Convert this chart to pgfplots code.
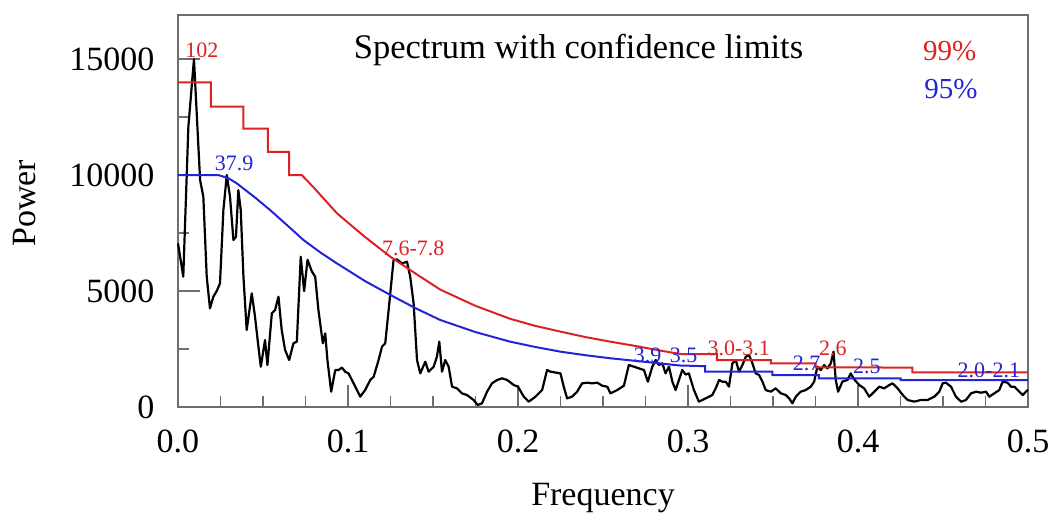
\documentclass[border=0pt]{standalone}
\usepackage{pgfplots}
\pgfplotsset{compat=1.18}
\usepackage{fontspec}
\setmainfont{Liberation Serif}
\definecolor{cred}{RGB}{220,35,35}
\definecolor{cblue}{RGB}{35,35,215}
\definecolor{cframe}{RGB}{110,110,110}
\pgfplotstableread{
f P
0 7055
0.0031 5617
0.0061 12083
0.0094 15000
0.0130 9784
0.0149 9066
0.0169 5617
0.0188 4253
0.0208 4756
0.0228 5000
0.0247 5330
0.0267 8491
0.0287 10000
0.0306 9066
0.0326 7198
0.0341 7340
0.0355 9353
0.0369 8491
0.0385 5617
0.0404 3319
0.0434 4899
0.0453 3893
0.0473 2600
0.0487 1737
0.0512 2888
0.0526 1809
0.0552 4037
0.0571 4181
0.0591 4756
0.0610 3319
0.0630 2457
0.0654 2026
0.0679 2744
0.0699 2816
0.0722 6480
0.0742 5000
0.0762 6350
0.0787 5850
0.0807 5617
0.0826 4181
0.0852 2744
0.0866 3175
0.0879 2026
0.0901 660
0.0925 1593
0.0944 1593
0.0964 1700
0.0983 1522
0.1003 1450
0.1033 1020
0.1072 445
0.1101 733
0.1131 1164
0.1151 1307
0.1180 2026
0.1200 2600
0.1219 2744
0.1239 4181
0.1268 6336
0.1288 6360
0.1317 6193
0.1347 6264
0.1366 5617
0.1386 4469
0.1406 2026
0.1425 1450
0.1455 1953
0.1474 1522
0.1504 1737
0.1523 2170
0.1537 2816
0.1553 1522
0.1572 2026
0.1592 1737
0.1612 877
0.1641 805
0.1670 589
0.1700 517
0.1739 302
0.1763 86
0.1788 158
0.1818 660
0.1847 1020
0.1877 1164
0.1906 1236
0.1936 1164
0.1975 948
0.2000 876
0.2034 445
0.2063 230
0.2103 445
0.2142 733
0.2171 1595
0.2191 1523
0.2250 1450
0.2269 876
0.2289 373
0.2318 445
0.2348 661
0.2377 1020
0.2407 1049
0.2436 1020
0.2466 1049
0.2495 920
0.2525 876
0.2544 589
0.2584 733
0.2623 920
0.2652 1810
0.2682 1738
0.2711 1666
0.2741 1595
0.2764 1092
0.2790 1738
0.2810 2026
0.2829 1810
0.2849 1882
0.2868 1451
0.2888 1738
0.2908 1092
0.2927 733
0.2947 1164
0.2966 1595
0.2986 1400
0.3005 1450
0.3035 733
0.3064 230
0.3104 373
0.3143 517
0.3163 805
0.3183 1164
0.3202 1092
0.3222 1092
0.3241 876
0.3261 1882
0.3281 2026
0.3300 1523
0.3320 1810
0.3340 2170
0.3359 2241
0.3379 1882
0.3398 1451
0.3418 1379
0.3438 1092
0.3457 733
0.3487 661
0.3516 805
0.3546 589
0.3575 517
0.3595 373
0.3614 158
0.3634 445
0.3663 661
0.3693 733
0.3722 876
0.3742 1092
0.3761 1738
0.3781 1595
0.3801 1810
0.3820 1666
0.3840 1882
0.3856 2385
0.3869 1164
0.3883 661
0.3908 1092
0.3938 1164
0.3957 1451
0.3977 1200
0.4007 948
0.4036 805
0.4066 445
0.4096 661
0.4125 876
0.4154 805
0.4184 948
0.4203 1020
0.4233 805
0.4263 517
0.4292 302
0.4331 230
0.4370 302
0.4409 302
0.4449 445
0.4478 661
0.4498 1020
0.4517 1049
0.4547 876
0.4576 445
0.4606 230
0.4635 302
0.4665 589
0.4694 661
0.4723 617
0.4753 661
0.4772 445
0.4802 589
0.4831 733
0.4851 1092
0.4880 1049
0.4900 876
0.4920 876
0.4939 733
0.4969 517
0.4988 661
0.5000 750
}\spectrum
\pgfplotstableread{
f P
0 14000
0.0193 14000
0.0193 12950
0.0385 12950
0.0385 12000
0.0528 12000
0.0528 11000
0.0654 11000
0.0654 10000
0.0728 10000
0.0800 9450
0.0935 8350
0.1100 7330
0.1249 6480
0.1400 5740
0.1543 5060
0.1750 4360
0.1955 3800
0.2100 3500
0.2250 3250
0.2400 3010
0.2544 2815
0.2700 2620
0.2830 2440
0.2956 2285
0.3170 2285
0.3170 2025
0.3487 2025
0.3487 1880
0.3750 1880
0.3750 1710
0.4320 1700
0.4320 1495
0.5000 1495
}\redlim
\pgfplotstableread{
f P
0 10000
0.0238 10000
0.0300 9850
0.0346 9640
0.0450 9050
0.0542 8490
0.0640 7850
0.0738 7200
0.0840 6650
0.0935 6190
0.1100 5430
0.1249 4830
0.1400 4250
0.1543 3750
0.1750 3230
0.1955 2815
0.2100 2590
0.2250 2385
0.2400 2230
0.2544 2100
0.2700 1983
0.2950 1790
0.3100 1760
0.3100 1523
0.3496 1523
0.3496 1379
0.3770 1379
0.3770 1236
0.4250 1236
0.4250 1164
0.5000 1164
}\bluelim
\begin{document}
\begin{tikzpicture}
\begin{axis}[
  scale only axis,
  width=850pt, height=392pt,
  xmin=0, xmax=0.5, ymin=0, ymax=16900,
  axis line style={cframe, line width=1.6pt},
  font=\fontsize{34}{38}\selectfont,
  /pgf/number format/assume math mode=true,
  scaled x ticks=false, scaled y ticks=false,
  xtick={0,0.1,0.2,0.3,0.4,0.5},
  xticklabels={0.0,0.1,0.2,0.3,0.4,0.5},
  ytick={0,5000,10000,15000},
  yticklabels={0,5000,10000,15000},
  minor xtick={0.025,0.05,...,0.5},
  minor ytick={2500,7500,12500},
  tick align=inside,
  xtick pos=bottom, ytick pos=left,
  major tick length=22pt, minor tick length=11pt,
  every tick/.style={cframe, line width=1.2pt},
  xticklabel style={yshift=-19pt},
  yticklabel style={xshift=-20pt},
  xlabel={Frequency},
  ylabel={Power},
  xlabel style={at={(axis description cs:0.5,-0.25)}, anchor=base},
  ylabel style={at={(axis description cs:-0.18,0.52)}, anchor=center},
  clip=false,
]
\addplot[black, line width=2.2pt, line join=round] table[x=f,y=P] {\spectrum};
\addplot[cred, line width=2pt] table[x=f,y=P] {\redlim};
\addplot[cblue, line width=2pt] table[x=f,y=P] {\bluelim};
\node[anchor=base, font=\fontsize{34.5}{38}\selectfont] at (axis cs:0.2356,15043) {Spectrum with confidence limits};
\node[anchor=base, text=cred, font=\fontsize{29}{34}\selectfont] at (axis cs:0.454,14957) {99\%};
\node[anchor=base, text=cblue, font=\fontsize{29}{34}\selectfont] at (axis cs:0.4547,13319) {95\%};
\begin{scope}[every node/.style={anchor=base, font=\fontsize{22}{26}\selectfont, inner sep=0pt}]
\node[text=cred] at (axis cs:0.0141,15086) {102};
\node[text=cblue] at (axis cs:0.0330,10215) {37.9};
\node[text=cred] at (axis cs:0.1384,6552) {7.6-7.8};
\node[text=cblue] at (axis cs:0.2762,1940) {3.9};
\node[text=cblue] at (axis cs:0.2974,1940) {3.5};
\node[text=cred] at (axis cs:0.3298,2241) {3.0-3.1};
\node[text=cred] at (axis cs:0.3852,2241) {2.6};
\node[text=cblue] at (axis cs:0.3698,1595) {2.7};
\node[text=cblue] at (axis cs:0.4052,1466) {2.5};
\node[text=cblue] at (axis cs:0.4770,1293) {2.0-2.1};
\end{scope}
\end{axis}
\pgfresetboundingbox
\useasboundingbox (-178pt,-113pt) rectangle (878pt,407pt);
\end{tikzpicture}
\end{document}
